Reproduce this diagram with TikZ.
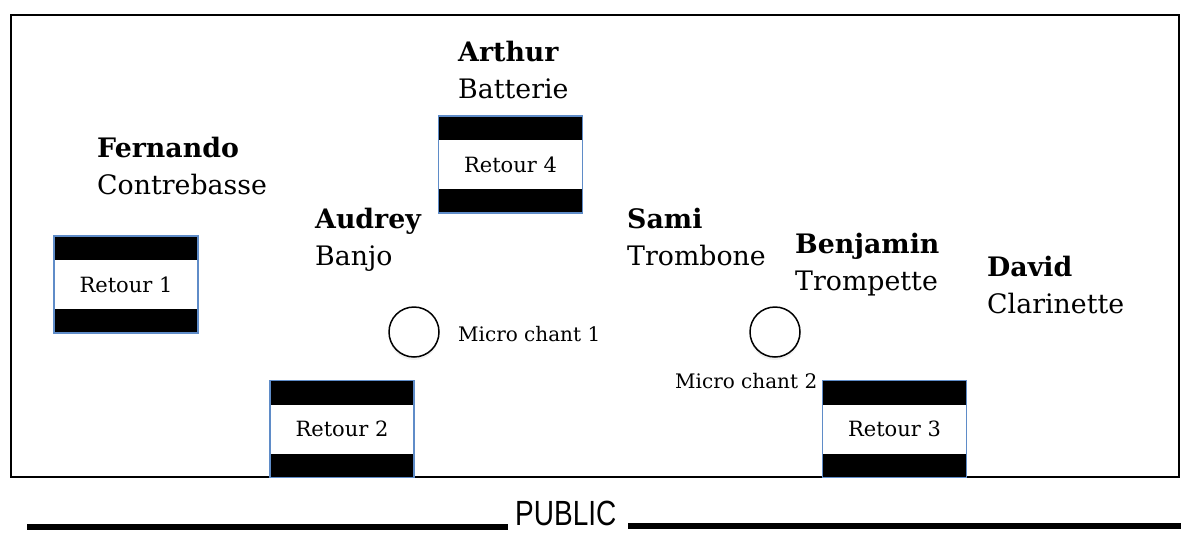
\documentclass[tikz,border=0pt]{standalone}
\usepackage{fontspec}
\setmainfont{DejaVu Serif}
\newfontfamily\pubfont{Liberation Sans}
\usetikzlibrary{shadows}
\definecolor{bordercol}{RGB}{95,140,200}
\tikzset{
  pname/.style={anchor=base west, inner sep=0pt, font=\fontsize{26.8}{32}\selectfont\bfseries},
  pinstr/.style={anchor=base west, inner sep=0pt, font=\fontsize{26.8}{32}\selectfont},
  retour/.style={draw=bordercol, line width=1.2pt, minimum width=144pt, minimum height=97pt,
    inner sep=0pt, fill=white, font=\fontsize{21}{24}\selectfont,
    path picture={
      \fill[black] (path picture bounding box.north west) rectangle ([yshift=-24pt]path picture bounding box.north east);
      \fill[black] (path picture bounding box.south west) rectangle ([yshift=24pt]path picture bounding box.south east);
    }},
  micro/.style={circle, draw=black, line width=1.5pt, minimum size=50pt, inner sep=0pt, fill=white,
    drop shadow={opacity=0.12, shadow xshift=0pt, shadow yshift=-3pt}},
  mlabel/.style={anchor=base west, inner sep=0pt, font=\fontsize{20}{24}\selectfont},
  publine/.style={line width=6pt, black},
}
\begin{document}
\begin{tikzpicture}[x=1pt, y=-1pt]
\useasboundingbox (0,0) rectangle (1191,533);
% stage
\draw[line width=2.2pt] (11,15) rectangle (1179,477);
% musicians
\node[pname] (fern) at (97,157) {Fernando};
\node[pinstr] (fernI) at (97,194) {Contrebasse};
\node[pname] (arth) at (458,61) {Arthur};
\node[pinstr] (arthI) at (458,98) {Batterie};
\node[pname] (aud) at (315,228) {Audrey};
\node[pinstr] (audI) at (315,265) {Banjo};
\node[pname] (sami) at (627,228) {Sami};
\node[pinstr] (samiI) at (627,265) {Trombone};
\node[pname] (benj) at (795,253) {Benjamin};
\node[pinstr] (benjI) at (795,290) {Trompette};
\node[pname] (dav) at (987,276) {David};
\node[pinstr] (davI) at (987,313) {Clarinette};
% retours
\node[retour] (r1) at (126,284.5) {Retour 1};
\node[retour] (r4) at (510.5,164.5) {Retour 4};
\node[retour] (r2) at (342,429) {Retour 2};
\node[retour] (r3) at (894.5,429) {Retour 3};
% micros
\node[micro] (m1) at (414,332) {};
\node[micro] (m2) at (775,332) {};
\node[mlabel] (m1l) at (458,341) {Micro chant 1};
\node[mlabel] (m2l) at (675,388) {Micro chant 2};
% public
\node[anchor=base west, inner sep=0pt] (pub) at (515,525) {\scalebox{0.8}[1]{\pubfont\fontsize{35}{38}\selectfont PUBLIC}};
\coordinate (pl1) at (27,527);
\coordinate (pl2) at (508,527);
\coordinate (pr1) at (628,526);
\coordinate (pr2) at (1181,526);
\draw[publine] (pl1) -- (pl2);
\draw[publine] (pr1) -- (pr2);
\end{tikzpicture}
\end{document}
